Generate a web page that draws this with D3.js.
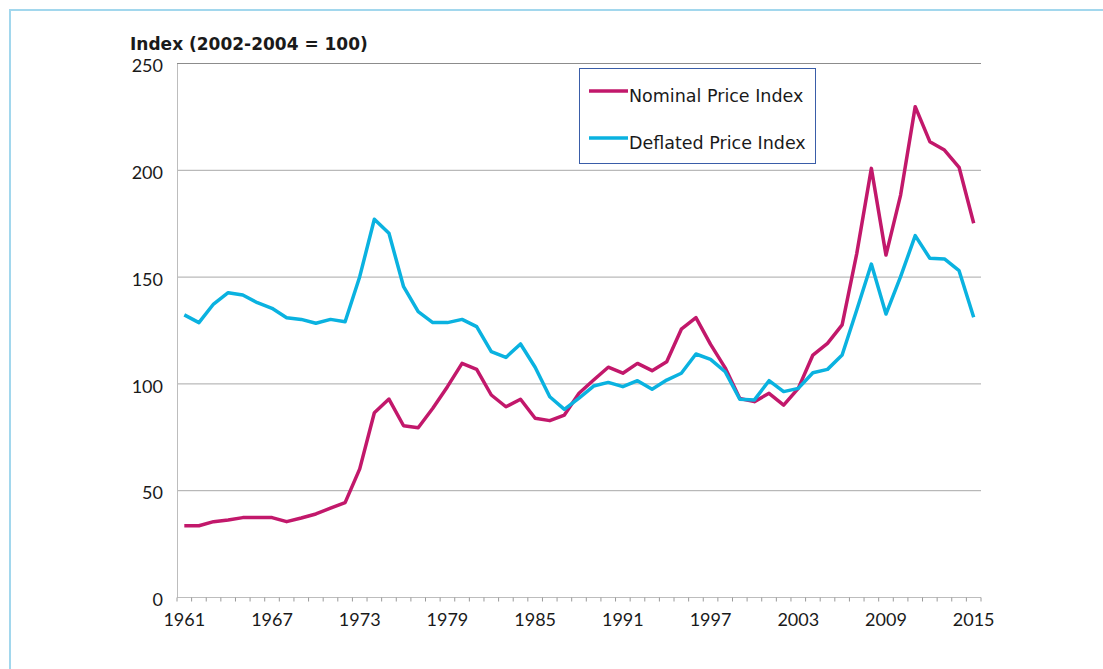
<!DOCTYPE html>
<html>
<head>
<meta charset="utf-8">
<script src="https://cdn.jsdelivr.net/npm/d3@7"></script>
<style>
  body { margin: 0; background: #fff; }
  svg text { font-family: Lato, "Noto Sans", sans-serif; fill: #1a1a1a; }
  svg text.wide { font-family: "DejaVu Sans", "Noto Sans", sans-serif; }
</style>
</head>
<body>
<svg id="chart" width="1103" height="669"></svg>
<script>
'use strict'

const years = d3.range(1961, 2016)
const nominal = [
    33.6, 33.6, 35.5, 36.3, 37.4, 37.4, 37.4, 35.5, 37.2, 39.1,
    41.8, 44.4, 60.2, 86.5, 92.9, 80.4, 79.5, 88.6, 98.7, 109.6,
    106.8, 94.8, 89.3, 92.8, 83.9, 82.8, 85.4, 95.6, 101.8, 107.8,
    105.0, 109.6, 106.2, 110.4, 125.6, 131.0, 118.5, 107.5, 93.2, 91.7,
    95.6, 90.1, 97.9, 113.5, 119.0, 127.6, 161.0, 200.9, 160.3, 188.4,
    229.8, 213.4, 209.5, 201.4, 175.2
]
const deflated = [
    132.3, 128.7, 137.4, 142.7, 141.6, 138.0, 135.4, 131.0, 130.2, 128.4,
    130.2, 129.1, 150.2, 177.1, 170.5, 145.5, 133.8, 128.7, 128.7, 130.2,
    126.8, 115.1, 112.4, 118.7, 107.8, 94.0, 88.1, 93.3, 99.0, 100.7,
    98.7, 101.5, 97.5, 101.8, 105.0, 114.0, 111.5, 105.7, 92.8, 92.5,
    101.5, 96.4, 97.9, 105.2, 106.8, 113.5, 134.6, 156.1, 132.7, 150.2,
    169.4, 158.8, 158.5, 153.0, 131.2
]
const yTicks = [0, 50, 100, 150, 200, 250]
const xLabels = [1961, 1967, 1973, 1979, 1985, 1991, 1997, 2003, 2009, 2015]
const seriesNames = ['Nominal Price Index', 'Deflated Price Index']
const seriesColors = ['#c2186b', '#0ab2e0']

const plot = { left: 177, right: 981, top: 63.5, bottom: 597.5 }

const svg = d3.select('#chart')

// light blue frame around the figure
svg.append('rect')
    .attr('x', 10).attr('y', 10)
    .attr('width', 1110).attr('height', 700)
    .attr('fill', 'none')
    .attr('stroke', '#a2d7ed')
    .attr('stroke-width', 2)

const band = d3.scaleBand()
    .domain(years)
    .range([plot.left, plot.right])
const x = d3.scalePoint()
    .domain(years)
    .range([plot.left, plot.right])
    .padding(0.5)
const y = d3.scaleLinear()
    .domain([0, 250])
    .range([plot.bottom, plot.top])

// gridlines
svg.append('g')
    .selectAll('line')
    .data(yTicks.filter(d => d > 0))
    .enter().append('line')
    .attr('x1', plot.left).attr('x2', plot.right)
    .attr('y1', d => y(d)).attr('y2', d => y(d))
    .attr('stroke', d => d === 250 ? '#8c8c8c' : '#a8a8a8')
    .attr('stroke-width', 1)

// y axis
const yAxis = svg.append('g')
    .attr('transform', 'translate(' + plot.left + ',0)')
    .call(d3.axisLeft(y).tickValues(yTicks).tickSize(0).tickPadding(14))
yAxis.select('.domain').attr('stroke', '#bdbdbd')
yAxis.selectAll('text')
    .style('font-size', '18px')
    .attr('dy', '0.45em')

// x axis, ticks sit between categories
const xAxis = svg.append('g')
    .attr('transform', 'translate(0,' + plot.bottom + ')')
xAxis.append('line')
    .attr('x1', plot.left).attr('x2', plot.right)
    .attr('stroke', '#bdbdbd')
xAxis.selectAll('.tk')
    .data(years.concat([null]))
    .enter().append('line')
    .classed('tk', true)
    .attr('x1', d => d === null ? plot.right : band(d))
    .attr('x2', d => d === null ? plot.right : band(d))
    .attr('y1', 0).attr('y2', 4)
    .attr('stroke', '#9a9a9a')
xAxis.selectAll('.lbl')
    .data(xLabels)
    .enter().append('text')
    .classed('lbl', true)
    .attr('x', d => x(d))
    .attr('y', 28)
    .attr('text-anchor', 'middle')
    .style('font-size', '18px')
    .text(d => d)

// axis title
svg.append('text')
    .classed('wide', true)
    .attr('x', 130).attr('y', 49.5)
    .style('font-size', '17px')
    .style('font-weight', 'bold')
    .text('Index (2002-2004 = 100)')

// lines
const line = d3.line()
    .x((d, i) => x(years[i]))
    .y(d => y(d))

;[nominal, deflated].forEach((s, i) => {
    svg.append('path')
        .datum(s)
        .attr('d', line)
        .attr('fill', 'none')
        .attr('stroke', seriesColors[i])
        .attr('stroke-width', 3.5)
        .attr('stroke-linejoin', 'round')
})

// legend
const legend = svg.append('g')
legend.append('rect')
    .attr('x', 579.5).attr('y', 68.5)
    .attr('width', 236).attr('height', 95)
    .attr('fill', '#fff')
    .attr('stroke', '#3a5da8')
    .attr('stroke-width', 1)
seriesNames.forEach((name, i) => {
    const ly = 91 + i * 47
    legend.append('line')
        .attr('x1', 589).attr('x2', 628)
        .attr('y1', ly).attr('y2', ly)
        .attr('stroke', seriesColors[i])
        .attr('stroke-width', 3.5)
    legend.append('text')
        .classed('wide', true)
        .attr('x', 629).attr('y', ly + 10.5)
        .style('font-size', '17.5px')
        .text(name)
})
</script>
</body>
</html>
